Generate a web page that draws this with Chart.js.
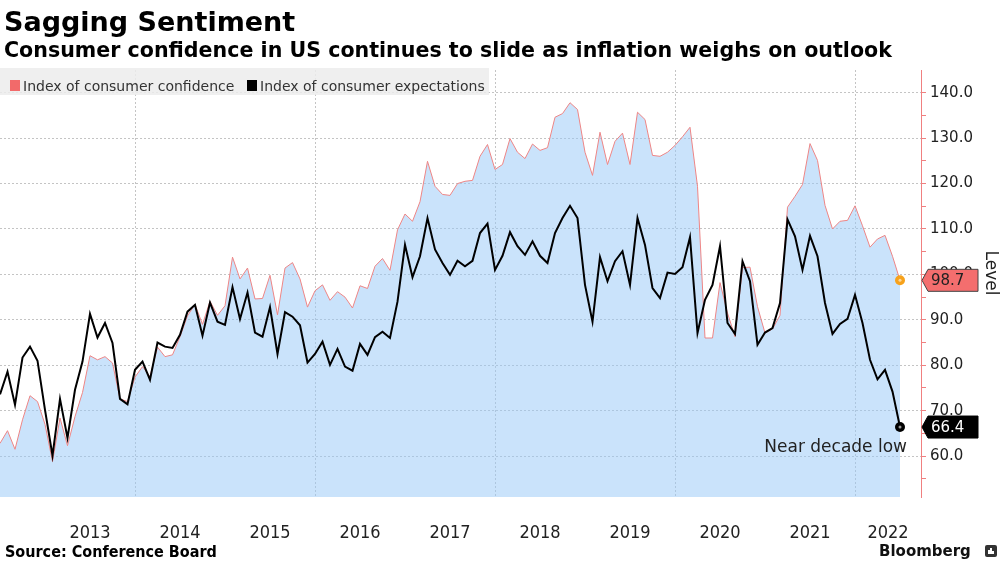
<!DOCTYPE html>
<html>
<head>
<meta charset="utf-8">
<script src="https://cdn.jsdelivr.net/npm/chart.js@4.4.0/dist/chart.umd.min.js"></script>
<style>
  body { margin: 0; background: #fff; width: 1003px; height: 564px; overflow: hidden; position: relative; font-family: "DejaVu Sans", sans-serif; }
  #chart { position: absolute; left: 0; top: 0; }
  .title { position: absolute; left: 4px; top: 8px; font: bold 27px/27px "DejaVu Sans"; color: #000; white-space: nowrap; }
  .subtitle { position: absolute; left: 4px; top: 40px; font: bold 20.6px/20.6px "DejaVu Sans"; color: #000; white-space: nowrap; }
  .legend { position: absolute; left: 0; top: 68px; width: 489px; height: 27px; background: rgba(236,236,236,0.85); }
  .legend .sw { position: absolute; top: 12px; width: 10px; height: 11px; }
  .legend .lb { position: absolute; top: 11px; font: 14px/14px "DejaVu Sans"; color: #333; white-space: nowrap; }
  .source { position: absolute; left: 5px; top: 544px; font: bold 16px/16px "DejaVu Sans Condensed", "DejaVu Sans"; color: #000; white-space: nowrap; }
  .brand { position: absolute; left: 879px; top: 544px; font: bold 15px/15px "DejaVu Sans"; color: #111; white-space: nowrap; }
  .icon { position: absolute; left: 985px; top: 545px; width: 12px; height: 12px; background: #333; border-radius: 2px; }
  .icon i { position: absolute; bottom: 3px; width: 2px; background: #fff; }
</style>
</head>
<body>
<canvas id="chart" width="1003" height="564"></canvas>
<div class="title">Sagging Sentiment</div>
<div class="subtitle">Consumer confidence in US continues to slide as inflation weighs on outlook</div>
<div class="legend">
  <span class="sw" style="left:10px;background:#f26a6a"></span><span class="lb" style="left:23px">Index of consumer confidence</span>
  <span class="sw" style="left:247px;background:#000"></span><span class="lb" style="left:260px">Index of consumer expectations</span>
</div>
<div class="source">Source: Conference Board</div>
<div class="brand">Bloomberg</div>
<div class="icon"><i style="left:3px;height:4px"></i><i style="left:5px;height:6px"></i><i style="left:7px;height:3px"></i></div>
<script>
// monthly readings, Jun 2012 .. Jun 2022
const confidence = [
  62.8, 65.6, 61.5, 68.0, 73.3, 72.0, 67.0, 58.8, 68.4, 62.3, 68.7, 74.0,
  82.1, 81.2, 81.9, 80.5, 72.6, 72.0, 77.4, 79.7, 77.5, 84.0, 81.9, 82.3,
  86.3, 90.9, 93.4, 89.0, 94.1, 91.0, 93.1, 103.8, 99.0, 101.4, 94.6, 94.7,
  99.8, 91.1, 101.4, 102.6, 99.0, 92.8, 96.4, 97.7, 94.3, 96.2, 95.0, 92.6,
  97.5, 96.9, 101.8, 103.5, 100.9, 109.8, 113.3, 111.7, 116.0, 124.9, 119.4, 117.6,
  117.4, 120.0, 120.5, 120.7, 126.0, 128.6, 123.1, 124.2, 129.9, 126.9, 125.5, 128.7,
  127.3, 127.9, 134.6, 135.4, 137.8, 136.3, 126.9, 121.8, 131.3, 124.2, 129.3, 131.1,
  124.2, 135.7, 134.1, 126.2, 126.0, 126.9, 128.4, 130.3, 132.4, 119.4, 86.0, 86.0,
  98.2, 91.5, 86.3, 101.5, 101.6, 92.9, 87.1, 88.0, 91.0, 114.8, 117.2, 119.8,
  128.8, 125.1, 115.2, 110.0, 111.7, 111.9, 115.1, 110.7, 106.0, 107.8, 108.6, 104.0,
  98.7
];
const expectations = [
  73.6, 78.6, 71.3, 81.7, 84.1, 81.0, 70.2, 60.1, 72.6, 64.0, 74.6, 80.8,
  91.3, 86.1, 89.3, 84.9, 72.6, 71.4, 79.0, 80.8, 76.8, 85.0, 84.1, 83.8,
  86.7, 91.8, 93.3, 86.5, 93.8, 89.6, 88.9, 97.2, 90.2, 96.0, 87.2, 86.3,
  92.8, 82.5, 91.7, 90.7, 88.8, 80.6, 82.5, 85.2, 80.1, 83.6, 79.7, 78.8,
  84.7, 82.3, 86.2, 87.4, 86.0, 94.0, 106.5, 99.4, 104.0, 112.4, 105.5, 102.5,
  99.9, 103.0, 101.8, 103.0, 109.1, 111.2, 101.0, 104.1, 109.3, 106.2, 104.3, 107.3,
  104.1, 102.5, 109.1, 112.4, 115.1, 112.4, 97.7, 89.6, 103.8, 98.5, 102.9, 105.1,
  97.7, 112.4, 106.5, 97.0, 94.8, 100.4, 100.1, 101.6, 108.2, 87.1, 94.4, 97.7,
  106.2, 89.3, 86.9, 102.9, 98.5, 84.5, 87.2, 88.2, 93.7, 112.1, 108.4, 101.0,
  108.5, 104.0, 93.7, 86.9, 89.1, 90.2, 95.5, 89.3, 81.2, 76.9, 79.0, 74.2,
  66.4
];
const yearLabels = ['2013', '2014', '2015', '2016', '2017', '2018', '2019', '2020', '2021', '2022'];
const yTickValues = [55, 60, 65, 70, 75, 80, 85, 90, 95, 100, 105, 110, 115, 120, 125, 130, 135, 140];

const X_MAX = 122.8;   // a little room after the last month (Jun 2022 = index 120)
// index of each December (year boundary); grid every two years
const gridMonths = [18, 42, 66, 90, 114];
// labels centred on each year (last one centred on the visible part)
const yearCenters = yearLabels.map((y, k) => k < yearLabels.length - 1 ? 12 * (k + 1) : (114 + X_MAX) / 2);

const toPoints = arr => arr.map((v, i) => ({ x: i, y: v }));

const annotate = {
  id: 'annotate',
  afterDatasetsDraw(chart) {
    const ctx = chart.ctx;
    const area = chart.chartArea;
    const cPt = chart.getDatasetMeta(0).data[confidence.length - 1];
    const ePt = chart.getDatasetMeta(1).data[expectations.length - 1];

    function dot(p, col, inner) {
      ctx.beginPath(); ctx.arc(p.x, p.y, 5, 0, Math.PI * 2); ctx.fillStyle = col; ctx.fill();
      ctx.beginPath(); ctx.arc(p.x, p.y, 1.5, 0, Math.PI * 2); ctx.fillStyle = inner; ctx.fill();
    }
    function flag(y, text, fill, txt, stroke) {
      const x0 = area.right + 1, h = 22, w = 56, tip = 6;
      ctx.beginPath();
      ctx.moveTo(x0, y); ctx.lineTo(x0 + tip, y - h / 2); ctx.lineTo(x0 + w, y - h / 2);
      ctx.lineTo(x0 + w, y + h / 2); ctx.lineTo(x0 + tip, y + h / 2); ctx.closePath();
      ctx.fillStyle = fill; ctx.fill();
      ctx.lineWidth = 1; ctx.strokeStyle = stroke; ctx.stroke();
      ctx.font = '15px "DejaVu Sans"'; ctx.fillStyle = txt;
      ctx.textAlign = 'left'; ctx.textBaseline = 'middle';
      ctx.fillText(text, x0 + 9, y + 1);
    }

    ctx.save();
    dot(cPt, '#f7a21b', '#fcd79c');
    dot(ePt, '#000', '#999');
    flag(cPt.y, confidence[confidence.length - 1].toFixed(1), '#f46e6e', '#222', '#444');
    flag(ePt.y, expectations[expectations.length - 1].toFixed(1), '#000', '#fff', '#000');

    ctx.font = '17px "DejaVu Sans"'; ctx.fillStyle = '#222';
    ctx.textAlign = 'right'; ctx.textBaseline = 'alphabetic';
    ctx.fillText('Near decade low', ePt.x + 7, ePt.y + 25);

    ctx.translate(990, 273); ctx.rotate(Math.PI / 2);
    ctx.textAlign = 'center'; ctx.textBaseline = 'middle';
    ctx.fillText('Level', 0, 0);
    ctx.restore();
  }
};

new Chart(document.getElementById('chart'), {
  type: 'line',
  data: {
    datasets: [
      {
        label: 'Index of consumer confidence',
        data: toPoints(confidence),
        borderColor: '#ee8585',
        borderWidth: 1,
        backgroundColor: 'rgba(150,200,248,0.5)',
        fill: 'start',
        pointRadius: 0,
        tension: 0,
        order: 2
      },
      {
        label: 'Index of consumer expectations',
        data: toPoints(expectations),
        borderColor: '#000',
        borderWidth: 2,
        fill: false,
        pointRadius: 0,
        tension: 0,
        order: 1
      }
    ]
  },
  options: {
    responsive: false,
    animation: false,
    layout: { padding: { top: 70, right: 0, bottom: 7, left: 0 } },
    plugins: { legend: { display: false }, tooltip: { enabled: false } },
    scales: {
      x: {
        type: 'linear', min: 0, max: X_MAX, position: 'bottom',
        grid: { display: false }, border: { display: false },
        afterBuildTicks: s => { s.ticks = yearCenters.map(v => ({ value: v })); },
        ticks: {
          callback: (v, i) => yearLabels[i],
          font: { family: '"DejaVu Sans Condensed", "DejaVu Sans"', size: 18 },
          color: '#222', padding: 18, maxRotation: 0, autoSkip: false
        },
        afterFit: s => { s.height = 60; }
      },
      xg: {
        type: 'linear', min: 0, max: X_MAX, position: 'bottom',
        grid: { color: '#c4c4c4', drawTicks: false, lineWidth: 1 },
        border: { display: false, dash: [2, 2] },
        ticks: { display: false },
        afterBuildTicks: s => { s.ticks = gridMonths.map(v => ({ value: v })); },
        afterFit: s => { s.height = 0; }
      },
      y: {
        type: 'linear', position: 'right', min: 51, max: 145,
        afterBuildTicks: s => { s.ticks = yTickValues.map(v => ({ value: v })); },
        ticks: {
          callback: v => (v % 10 === 0 ? v.toFixed(1) : ''),
          font: { family: '"DejaVu Sans"', size: 15 },
          color: '#222', padding: 4, autoSkip: false
        },
        grid: {
          color: c => (c.tick && c.tick.value % 10 === 0 ? '#c4c4c4' : 'rgba(0,0,0,0)'),
          tickColor: '#f08080', tickLength: 5, lineWidth: 1
        },
        border: { color: '#f08080', dash: [2, 2] },
        afterFit: s => { s.width = 82; }
      }
    }
  },
  plugins: [annotate]
});
</script>
</body>
</html>
